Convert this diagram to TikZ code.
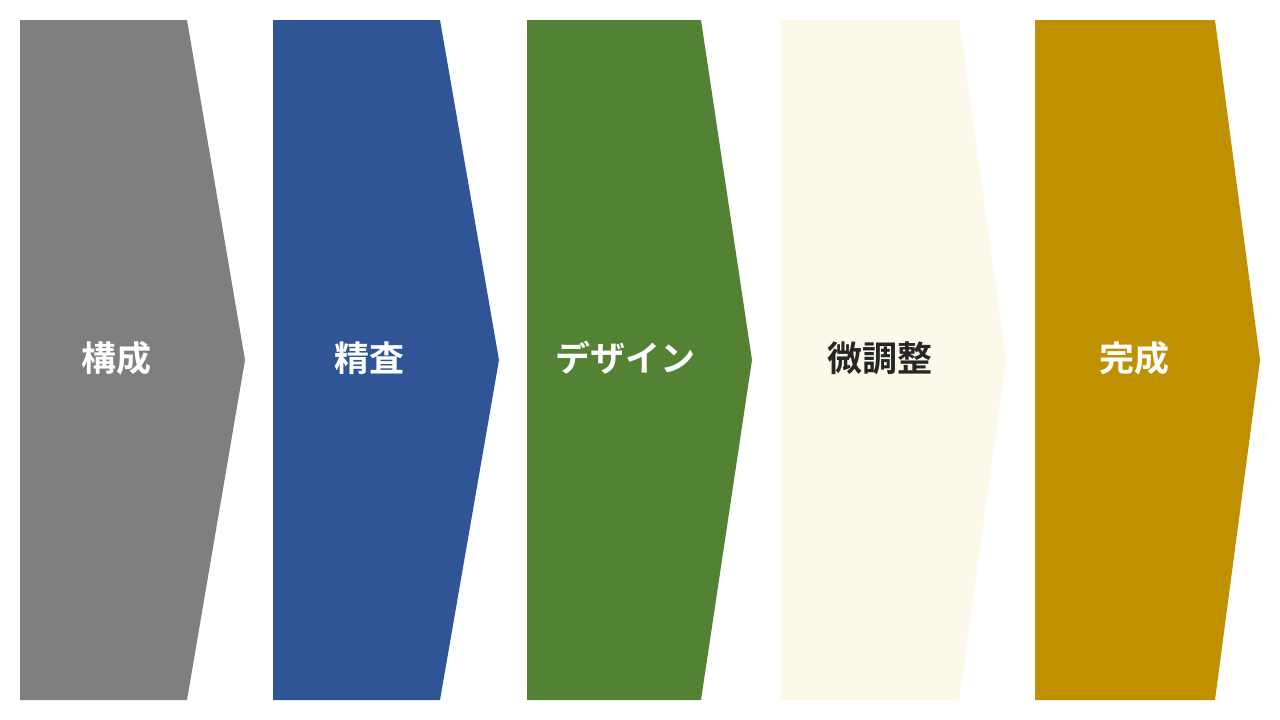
\documentclass[tikz,border=0pt]{standalone}
\usepackage{fontspec}
\newfontfamily\cjk{Noto Sans CJK JP}[BoldFont={* Bold}]
\definecolor{cgray}{HTML}{7F7F7F}
\definecolor{cblue}{HTML}{2F5597}
\definecolor{cgreen}{HTML}{548235}
\definecolor{ccream}{HTML}{FCF8EA}
\definecolor{cgold}{HTML}{BF9000}
\definecolor{cdark}{HTML}{262626}
\begin{document}
\begin{tikzpicture}[x=1pt,y=-1pt,
  lbl/.style={font=\cjk\bfseries\fontsize{35}{38}\selectfont, inner sep=0pt, anchor=center}]
\useasboundingbox (0,0) rectangle (1280,720);
\fill[white] (0,0) rectangle (1280,720);
\fill[cgray] (20,20) -- (187,20) -- (245,360) -- (187,700) -- (20,700) -- cycle;
\fill[cblue] (273,20) -- (440,20) -- (499,360) -- (440,700) -- (273,700) -- cycle;
\fill[cgreen] (527,20) -- (701,20) -- (752,360) -- (701,700) -- (527,700) -- cycle;
\fill[ccream] (781,20) -- (959,20) -- (1006,360) -- (959,700) -- (781,700) -- cycle;
\fill[cgold] (1035,20) -- (1215,20) -- (1260,360) -- (1215,700) -- (1035,700) -- cycle;
\node[lbl, text=white] (t1) at (116,358) {構成};
\node[lbl, text=white] (t2) at (369,358) {精査};
\node[lbl, text=white] (t3) at (625,358) {デザイン};
\node[lbl, text=cdark] (t4) at (880,358) {微調整};
\node[lbl, text=white] (t5) at (1134,358) {完成};
\end{tikzpicture}
\end{document}
